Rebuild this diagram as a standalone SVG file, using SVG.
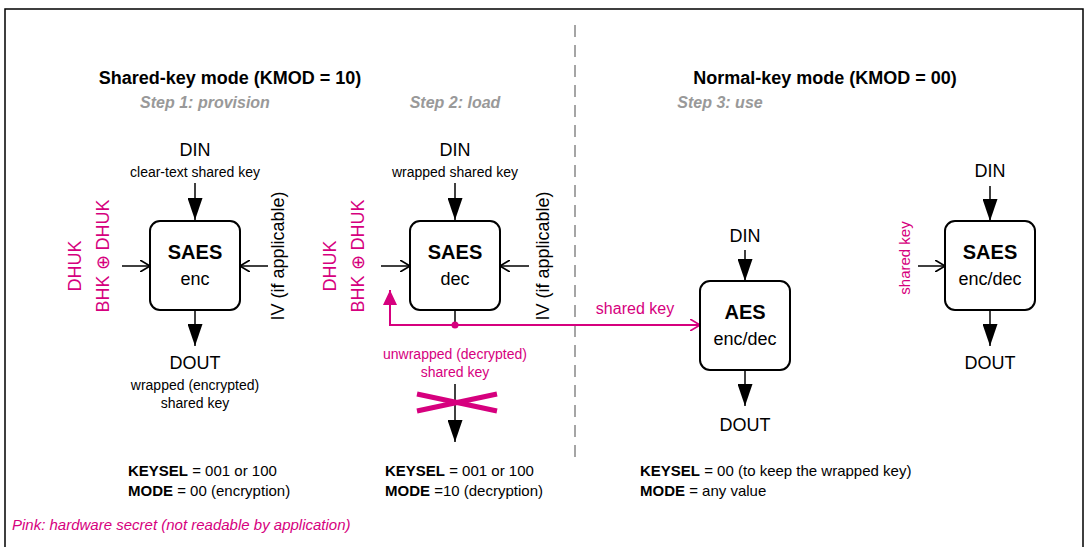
<svg xmlns="http://www.w3.org/2000/svg" width="1088" height="547" viewBox="0 0 1088 547">
<defs>
<style>
text{font-family:"Liberation Sans",Arial,sans-serif;fill:#000}
.pk{fill:#d6007e}
.h{font-size:18px;font-weight:bold;text-anchor:middle}
.st{font-size:16px;font-weight:bold;font-style:italic;fill:#999;text-anchor:middle}
.big{font-size:18px;text-anchor:middle}
.sm{font-size:14px;text-anchor:middle}
.t{font-size:20px;font-weight:bold;text-anchor:middle}
.ln{stroke:#000;stroke-width:1.5;fill:none}
.mg{stroke:#d6007e;stroke-width:2;fill:none}
.box{fill:#fff;stroke:#000;stroke-width:2}
.bt{font-size:15px}
</style>
<marker id="fa" viewBox="0 0 10 10" refX="10" refY="5" markerWidth="22" markerHeight="15" markerUnits="userSpaceOnUse" orient="auto" preserveAspectRatio="none"><path d="M0,0L10,5L0,10z" fill="#000"/></marker>
<marker id="oa" viewBox="0 0 10 10" refX="10" refY="5" markerWidth="10" markerHeight="12" markerUnits="userSpaceOnUse" orient="auto" preserveAspectRatio="none"><path d="M0,0L10,5L0,10" fill="none" stroke="#000" stroke-width="1.5"/></marker>
<marker id="fap" viewBox="0 0 10 10" refX="10" refY="5" markerWidth="15" markerHeight="14" markerUnits="userSpaceOnUse" orient="auto" preserveAspectRatio="none"><path d="M0,0L10,5L0,10z" fill="#d6007e"/></marker>
<marker id="oap" viewBox="0 0 10 10" refX="10" refY="5" markerWidth="10" markerHeight="12" markerUnits="userSpaceOnUse" orient="auto" preserveAspectRatio="none"><path d="M0,0L10,5L0,10" fill="none" stroke="#d6007e" stroke-width="1.5"/></marker>
</defs>
<rect width="1088" height="547" fill="#fff"/>
<path d="M5,547V9H1083V547" fill="none" stroke="#000" stroke-width="1.5"/>
<line x1="575" y1="25" x2="575" y2="465" stroke="#888" stroke-width="1.5" stroke-dasharray="12,8"/>
<text class="h" x="230" y="84">Shared-key mode (KMOD = 10)</text>
<text class="h" x="825" y="84">Normal-key mode (KMOD = 00)</text>
<text class="st" x="205" y="108">Step 1: provision</text>
<text class="st" x="455" y="108">Step 2: load</text>
<text class="st" x="720" y="108">Step 3: use</text>

<g id="connectors">
<line class="ln" x1="195" y1="183" x2="195" y2="220" marker-end="url(#fa)" stroke-width="2"/>
<line class="ln" x1="195" y1="310" x2="195" y2="346" marker-end="url(#fa)" stroke-width="2"/>
<line class="ln" x1="122" y1="266" x2="150" y2="266" marker-end="url(#oa)"/>
<line class="ln" x1="268" y1="266" x2="240" y2="266" marker-end="url(#oa)"/>
<line class="ln" x1="455" y1="183" x2="455" y2="220" marker-end="url(#fa)" stroke-width="2"/>
<line class="ln" x1="381" y1="266" x2="410" y2="266" marker-end="url(#oa)"/>
<line class="ln" x1="529" y1="266" x2="500" y2="266" marker-end="url(#oa)"/>
<line class="ln" x1="455" y1="310" x2="455" y2="325" stroke-width="2"/>
<line class="ln" x1="455" y1="384" x2="455" y2="442" marker-end="url(#fa)" stroke-width="2"/>
<path class="mg" d="M455,325H390V290" marker-end="url(#fap)"/>
<line class="mg" x1="455" y1="325" x2="700" y2="325" marker-end="url(#oap)"/>
<circle cx="455" cy="325" r="3.5" fill="#d6007e"/>
<path d="M417,394L497,411M417,411L497,394" stroke="#d6007e" stroke-width="5" fill="none"/>
<line class="ln" x1="745" y1="250" x2="745" y2="281" marker-end="url(#fa)" stroke-width="2"/>
<line class="ln" x1="745" y1="370" x2="745" y2="406" marker-end="url(#fa)" stroke-width="2"/>
<line class="ln" x1="990" y1="186" x2="990" y2="221" marker-end="url(#fa)" stroke-width="2"/>
<line class="ln" x1="990" y1="310" x2="990" y2="346" marker-end="url(#fa)" stroke-width="2"/>
<line class="ln" x1="918" y1="266" x2="945" y2="266" marker-end="url(#oa)"/>
</g>

<g id="saes-enc">
<rect class="box" x="150" y="221" width="90" height="89" rx="10"/>
<text class="t" x="195" y="259">SAES</text>
<text class="big" x="195" y="285">enc</text>
<text class="big" x="195" y="156">DIN</text>
<text class="sm" x="195" y="177">clear-text shared key</text>
<text class="big" x="195" y="369">DOUT</text>
<text class="sm" x="195" y="390">wrapped (encrypted)</text>
<text class="sm" x="195" y="408">shared key</text>
<text class="big pk" transform="translate(81,266) rotate(-90)">DHUK</text>
<text class="big pk" transform="translate(109,256) rotate(-90)">BHK ⊕ DHUK</text>
<text class="big" transform="translate(284,256) rotate(-90)">IV (if applicable)</text>
</g>

<g id="saes-dec">
<rect class="box" x="410" y="221" width="90" height="89" rx="10"/>
<text class="t" x="455" y="259">SAES</text>
<text class="big" x="455" y="285">dec</text>
<text class="big" x="455" y="156">DIN</text>
<text class="sm" x="455" y="177">wrapped shared key</text>
<text class="big pk" transform="translate(336,266) rotate(-90)">DHUK</text>
<text class="big pk" transform="translate(364,256) rotate(-90)">BHK ⊕ DHUK</text>
<text class="big" transform="translate(549,256) rotate(-90)">IV (if applicable)</text>
<text class="sm pk" x="455" y="359">unwrapped (decrypted)</text>
<text class="sm pk" x="455" y="377">shared key</text>
<text class="big pk" x="635" y="314" style="font-size:16px">shared key</text>
</g>

<g id="aes">
<rect class="box" x="700" y="281" width="90" height="89" rx="10"/>
<text class="t" x="745" y="319">AES</text>
<text class="big" x="745" y="345">enc/dec</text>
<text class="big" x="745" y="242">DIN</text>
<text class="big" x="745" y="431">DOUT</text>
</g>

<g id="saes-use">
<rect class="box" x="945" y="221" width="90" height="89" rx="10"/>
<text class="t" x="990" y="259">SAES</text>
<text class="big" x="990" y="285">enc/dec</text>
<text class="big" x="990" y="177">DIN</text>
<text class="big" x="990" y="369">DOUT</text>
<text class="pk" style="font-size:15px;text-anchor:middle" transform="translate(910,258) rotate(-90)">shared key</text>
</g>

<g id="notes">
<text class="bt" x="128" y="476"><tspan font-weight="bold">KEYSEL</tspan> = 001 or 100</text>
<text class="bt" x="128" y="496"><tspan font-weight="bold">MODE</tspan> = 00 (encryption)</text>
<text class="bt" x="385" y="476"><tspan font-weight="bold">KEYSEL</tspan> = 001 or 100</text>
<text class="bt" x="385" y="496"><tspan font-weight="bold">MODE</tspan> =10 (decryption)</text>
<text class="bt" x="640" y="476"><tspan font-weight="bold">KEYSEL</tspan> = 00 (to keep the wrapped key)</text>
<text class="bt" x="640" y="496"><tspan font-weight="bold">MODE</tspan> = any value</text>
<text class="bt pk" x="12" y="530" font-style="italic">Pink: hardware secret (not readable by application)</text>
</g>
</svg>
